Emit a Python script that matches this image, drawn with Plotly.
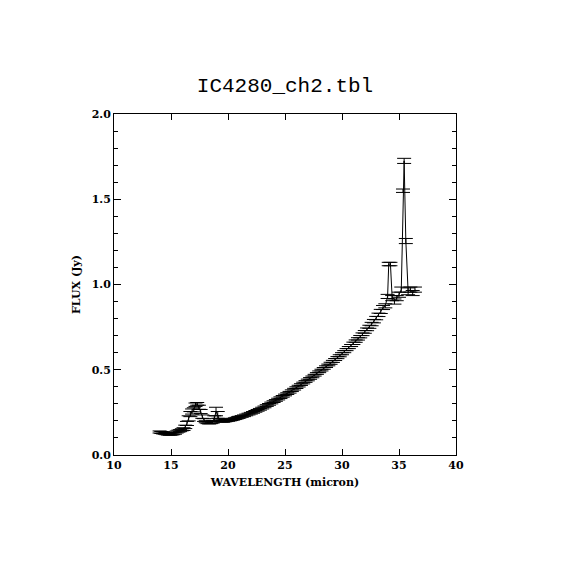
import plotly.graph_objects as go

wavelength = [
    14.00, 14.15, 14.30, 14.45, 14.60, 14.75, 14.90, 15.05, 15.20, 15.35,
    15.50, 15.65, 15.80, 15.95, 16.10, 16.25, 16.40, 16.55, 16.70, 16.85,
    17.00, 17.15, 17.30, 17.45, 17.60, 17.75, 17.90, 18.05, 18.20, 18.35,
    18.50, 18.65, 18.80, 18.95, 19.10, 19.25, 19.40, 19.55, 19.70, 19.85,
    20.00, 20.15, 20.30, 20.45, 20.60, 20.75, 20.90,
    21.0, 21.2, 21.4, 21.6, 21.8, 22.0, 22.2, 22.4, 22.6, 22.8,
    23.0, 23.2, 23.4, 23.6, 23.8, 24.0, 24.2, 24.4, 24.6, 24.8,
    25.0, 25.2, 25.4, 25.6, 25.8, 26.0, 26.2, 26.4, 26.6, 26.8,
    27.0, 27.2, 27.4, 27.6, 27.8, 28.0, 28.2, 28.4, 28.6, 28.8,
    29.0, 29.2, 29.4, 29.6, 29.8, 30.0, 30.2, 30.4, 30.6, 30.8,
    31.0, 31.2, 31.4, 31.6, 31.8, 32.0, 32.2, 32.4, 32.6, 32.8,
    33.0, 33.2, 33.4, 33.6, 33.8, 34.0, 34.1, 34.25, 34.4, 34.6,
    34.8, 35.0, 35.2, 35.35, 35.45, 35.6, 35.8, 36.0, 36.2, 36.4,
]

flux = [
    0.135, 0.132, 0.130, 0.128, 0.125, 0.123, 0.122, 0.123, 0.125, 0.128,
    0.135, 0.140, 0.143, 0.148, 0.152, 0.165, 0.185, 0.215, 0.240, 0.255,
    0.265, 0.295, 0.300, 0.280, 0.255, 0.225, 0.205, 0.195, 0.190, 0.188,
    0.190, 0.195, 0.215, 0.255, 0.235, 0.205, 0.200, 0.198, 0.200, 0.202,
    0.203, 0.205, 0.207, 0.210, 0.213, 0.216, 0.220,
    0.222, 0.226, 0.230, 0.235, 0.240, 0.245, 0.250, 0.256, 0.262, 0.268,
    0.275, 0.282, 0.290, 0.297, 0.305, 0.313, 0.320, 0.328, 0.336, 0.344,
    0.352, 0.360, 0.368, 0.377, 0.386, 0.395, 0.404, 0.413, 0.422, 0.431,
    0.440, 0.449, 0.458, 0.468, 0.478, 0.488, 0.498, 0.508, 0.518, 0.528,
    0.538, 0.549, 0.560, 0.571, 0.582, 0.594, 0.606, 0.618, 0.630, 0.642,
    0.655, 0.668, 0.681, 0.694, 0.708, 0.722, 0.737, 0.752, 0.768, 0.785,
    0.803, 0.822, 0.842, 0.865, 0.875, 0.930, 1.120, 1.120, 0.920, 0.900,
    0.920, 0.940, 0.970, 1.550, 1.725, 1.255, 0.960, 0.970, 0.950, 0.970,
]

flux_err = [
    0.006, 0.006, 0.006, 0.006, 0.006, 0.006, 0.006, 0.006, 0.006, 0.006,
    0.006, 0.006, 0.006, 0.006, 0.008, 0.010, 0.012, 0.015, 0.015, 0.015,
    0.012, 0.010, 0.008, 0.012, 0.012, 0.010, 0.008, 0.006, 0.006, 0.006,
    0.006, 0.008, 0.015, 0.025, 0.020, 0.010, 0.006, 0.006, 0.006, 0.006,
    0.005, 0.005, 0.005, 0.005, 0.005, 0.005, 0.005,
    0.005, 0.005, 0.005, 0.005, 0.005, 0.005, 0.005, 0.005, 0.005, 0.005,
    0.005, 0.005, 0.005, 0.005, 0.005, 0.005, 0.005, 0.005, 0.005, 0.005,
    0.005, 0.005, 0.005, 0.005, 0.005, 0.005, 0.005, 0.005, 0.005, 0.005,
    0.005, 0.005, 0.005, 0.005, 0.005, 0.005, 0.005, 0.005, 0.005, 0.005,
    0.006, 0.006, 0.006, 0.006, 0.006, 0.006, 0.006, 0.006, 0.006, 0.006,
    0.007, 0.007, 0.007, 0.007, 0.008, 0.008, 0.008, 0.009, 0.010, 0.010,
    0.010, 0.010, 0.012, 0.012, 0.012, 0.012, 0.010, 0.010, 0.015, 0.015,
    0.015, 0.015, 0.015, 0.010, 0.015, 0.015, 0.020, 0.015, 0.015, 0.015,
]

title_text = "IC4280_ch2.tbl"
x_title = "WAVELENGTH (micron)"
y_title = "FLUX (Jy)"
x_ticks = [10, 15, 20, 25, 30, 35, 40]
y_ticks = [0.0, 0.5, 1.0, 1.5, 2.0]

serif = "DejaVu Serif, serif"
label_font = dict(family=serif, size=11, color="black", weight="bold")

fig = go.Figure()
fig.add_trace(go.Scatter(
    x=wavelength, y=flux, mode="lines",
    line=dict(color="black", width=1),
    error_y=dict(type="data", array=flux_err, visible=True,
                 color="black", thickness=1, width=7),
    showlegend=False,
))

axis_common = dict(
    showline=True, linecolor="black", linewidth=1, mirror="ticks",
    ticks="inside", tickcolor="black", tickwidth=1,
    showgrid=False, zeroline=False,
    tickfont=label_font,
)

fig.update_layout(
    width=570, height=570,
    margin=dict(l=106, r=122, t=106, b=123),
    paper_bgcolor="white", plot_bgcolor="white",
    title=dict(text=title_text, x=0.5, xanchor="center", xref="paper",
               y=0.866, yanchor="middle",
               font=dict(family="Liberation Mono, monospace", size=21, color="black")),
    xaxis=dict(range=[10, 40], tickvals=x_ticks, ticklen=6,
               title=dict(text=x_title, standoff=7, font=label_font),
               **axis_common),
    yaxis=dict(range=[0, 2.0], tickvals=y_ticks, tickformat=".1f", ticklen=7,
               minor=dict(dtick=0.1, ticks="inside", ticklen=4, tickcolor="black"),
               title=dict(text=y_title, standoff=8, font=label_font),
               **axis_common),
)

fig.write_html("out.html")
